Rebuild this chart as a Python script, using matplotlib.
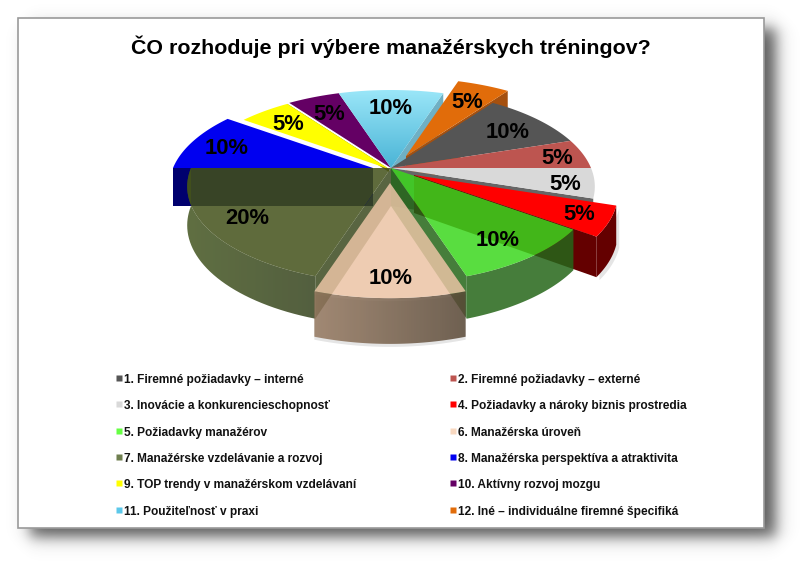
import numpy as np
import matplotlib
matplotlib.use('Agg')
import matplotlib.pyplot as plt
from matplotlib.patches import Polygon, Rectangle

plt.rcParams['font.family'] = ['Liberation Sans', 'DejaVu Sans']

title = 'ČO rozhoduje pri výbere manažérskych tréningov?'
names = ['1. Firemné požiadavky – interné', '2. Firemné požiadavky – externé',
         '3. Inovácie a konkurencieschopnosť', '4. Požiadavky a nároky biznis prostredia',
         '5. Požiadavky manažérov', '6. Manažérska úroveň',
         '7. Manažérske vzdelávanie a rozvoj', '8. Manažérska perspektíva a atraktivita',
         '9. TOP trendy v manažérskom vzdelávaní', '10. Aktívny rozvoj mozgu',
         '11. Použiteľnosť v praxi', '12. Iné – individuálne firemné špecifiká']
shares = [10, 5, 5, 5, 10, 10, 20, 10, 5, 5, 10, 5]

colors = ['#555555', '#bd5550', '#d9d9d9', '#ff0000', '#3cd71e', '#ebc4a5',
          '#43511a', '#0000f0', '#ffff00', '#640064', '#6fcbe6', '#e16c0a']
legend_colors = ['#555555', '#bd5550', '#d9d9d9', '#ff0000', '#66ff44', '#f8d8c0',
                 '#6f7f4f', '#0000f0', '#ffff00', '#640064', '#5cc8ea', '#e16c0a']
# screen shift of the pulled out slices, pixels
shift_x = [0, 0, 0, 23, 0, -1, 0, -18, -2, 0, 0, 15]
shift_y = [0, 0, 0, 7, 0, 15, 0, 0, 1, 0, 0, -12]
label_x = [508, 557, 565, 579, 498, 391, 247, 227, 288, 329, 391, 467]
label_y = [133, 159, 184, 215, 240, 279, 219, 148, 124, 115, 108, 102]

CX, CY, R, FLAT, D = 391, 168, 200, 93, 5.2

# angles of the slices, clockwise from the start of slice 1
edges = 54 - np.concatenate([[0], np.cumsum(shares)]) * 3.6


def project(deg, i=None, r=1.0):
    a = np.radians(np.atleast_1d(deg))
    X, Y = r * np.cos(a), -r * np.sin(a)
    s = D / (D - Y)
    x = CX + X * R * s
    y = CY + Y * FLAT * s
    if i is not None:
        x = x + shift_x[i]
        y = y + shift_y[i]
    return x, y, s


def depth(s):
    return 18 + 20 * s


fig = plt.figure(figsize=(8, 5.64), dpi=100)
ax = fig.add_axes([0, 0, 1, 1])
ax.axis('off')

zo = [1]


def nz():
    zo[0] += 1
    return zo[0]


def poly(x, y, col, alpha=1.0):
    ax.add_patch(Polygon(np.column_stack([x, y]), closed=True, fc=col, ec='none',
                         alpha=alpha, zorder=nz()))


def grad_poly(x, y, c0, c1, alpha=1.0, vertical=False):
    t = np.linspace(0, 1, 64)[:, None]
    rgb = (1 - t) * np.array(matplotlib.colors.to_rgb(c0)) + t * np.array(matplotlib.colors.to_rgb(c1))
    rgba = np.column_stack([rgb, np.full(64, alpha)])
    img = rgba[:, None, :] if vertical else rgba[None, :, :]
    z = nz()
    im = ax.imshow(img, extent=(x.min(), x.max(), y.max(), y.min()), aspect='auto', zorder=z)
    clip = Polygon(np.column_stack([x, y]), closed=True, fc='none', ec='none', zorder=z)
    ax.add_patch(clip)
    im.set_clip_path(clip)


def top_pts(i):
    t = np.linspace(edges[i], edges[i + 1], 40)
    x, y, s = project(t, i)
    return np.r_[CX + shift_x[i], x], np.r_[CY + shift_y[i], y]


def top(i, alpha=1.0):
    x, y = top_pts(i)
    poly(x, y, colors[i], alpha)


def cut_pts(i, ang, h=None):
    x, y, s = project(ang, i)
    ax0, ay0 = CX + shift_x[i], CY + shift_y[i]
    if h is None:
        return (np.r_[ax0, x, x, ax0],
                np.r_[ay0, y, y + depth(s), ay0 + depth(1.0)])
    return np.r_[ax0, x, x, ax0], np.r_[ay0, y, y + h, ay0 + h]


def cut(i, ang, col, alpha=1.0, h=None):
    x, y = cut_pts(i, ang, h)
    poly(x, y, col, alpha)


def rim_pts(i, extra=0):
    t = np.linspace(edges[i], edges[i + 1], 40)
    x, y, s = project(t, i)
    return np.r_[x, x[::-1]], np.r_[y, (y + depth(s) + extra)[::-1]]


# page shadow and white sheet
px, py = np.meshgrid(np.arange(800) + .5, np.arange(564) + .5)
edge = lambda v, a, b, w: 1 / (1 + np.exp((a - v) / w)) * 1 / (1 + np.exp((v - b) / w))
sh = edge(px, 30, 776, 4.5) * edge(py, 28, 537, 4.5)
rgba = np.zeros((564, 800, 4))
rgba[..., :3] = .25
rgba[..., 3] = sh * .85
ax.imshow(rgba, extent=(0, 800, 564, 0), aspect='auto', zorder=nz())
ax.add_patch(Rectangle((18, 18), 746, 510, fc='white', ec='#9a9a9a', lw=1.2, zorder=nz()))

# back half, furthest first
GREY, ROSE, WHITE, RED, GREEN, PEACH, OLIVE, BLUE, YELLOW, PURPLE, CYAN, ORANGE = range(12)

cut(BLUE, edges[BLUE], '#00006e')
cut(YELLOW, edges[YELLOW + 1], '#77771a', h=3)
top(BLUE)
top(YELLOW)
top(PURPLE)
cut(CYAN, edges[CYAN + 1], '#6fb0c4')
x, y = top_pts(CYAN)
grad_poly(x, y, '#9ae6f8', '#4ab4d6', vertical=True)
cut(ORANGE, edges[ORANGE + 1], '#a5500f')
top(ORANGE)
top(GREY)
top(ROSE)
cut(WHITE, edges[WHITE + 1], '#666666')
top(WHITE)

# red slice with its dark walls
x, y = rim_pts(RED)
poly(x + 3, y + 3, 'black', .1)
poly(x, y, '#640000')
cut(RED, edges[RED + 1], '#640000')
top(RED)

# see through slices in front
x, y = rim_pts(GREEN)
poly(x, y, '#256619', .85)
cut(GREEN, edges[GREEN + 1], '#256619', .85)
top(GREEN, .85)

x, y = rim_pts(OLIVE)
grad_poly(x, y, '#43551f', '#34421c', .85)
cut(OLIVE, edges[OLIVE], '#3c4a1f', .85)
top(OLIVE, .85)

x, y = rim_pts(PEACH, 3)
poly(x, y + 3, 'black', .1)
grad_poly(x, y, '#95785f', '#5a4937', .85)
top(PEACH, .85)

# percent labels
for i in range(12):
    ax.text(label_x[i], label_y[i], '%d%%' % shares[i], fontsize=15.8, fontweight='bold',
            ha='center', va='center', color='black', zorder=200)

ax.text(391, 47, title, fontsize=15.4, fontweight='bold', ha='center', va='center',
        color='black', zorder=200)

# legend, two columns
rows = [380, 406, 433, 459, 485, 512]
for i, name in enumerate(names):
    col = i % 2
    yy = rows[i // 2]
    mx = 119 if col == 0 else 453
    ax.plot([mx], [yy - 2], 's', ms=4.6, color=legend_colors[i], mec='none', zorder=200)
    ax.text(mx + 5, yy, name, fontsize=8.6, fontweight='bold', ha='left', va='center',
            color='#111111', zorder=200)

ax.set_xlim(0, 800)
ax.set_ylim(564, 0)
fig.savefig('out.png', dpi=100)
